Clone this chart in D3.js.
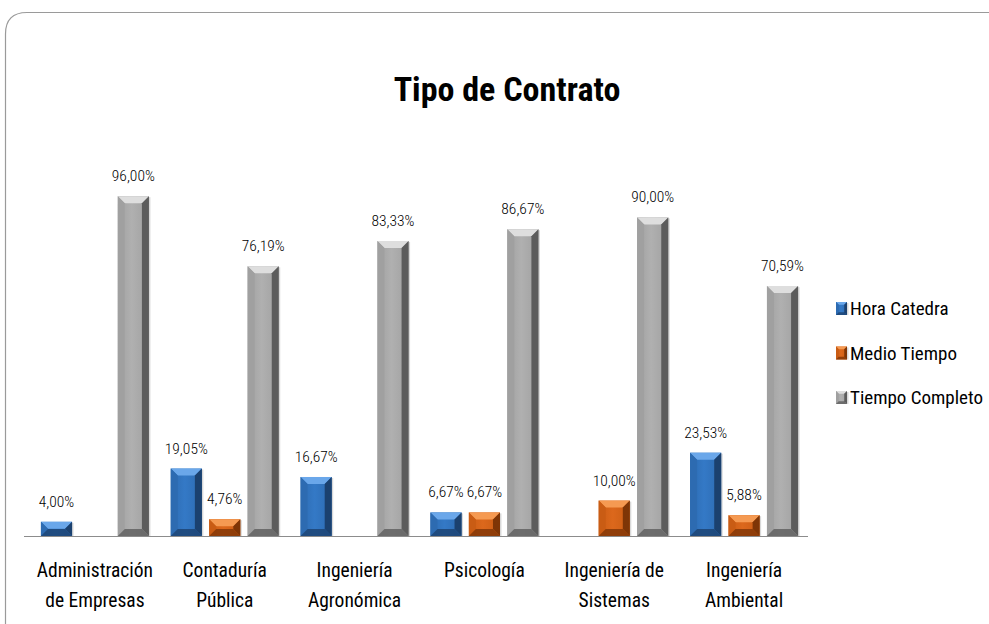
<!doctype html>
<html lang="es">
<head>
<meta charset="utf-8">
<title>Tipo de Contrato</title>
<script src="https://cdn.jsdelivr.net/npm/d3@7"></script>
<style>
  body { margin: 0; background: #fff; }
  svg text { font-family: "Liberation Sans Narrow", "Roboto Condensed", "Roboto", sans-serif; fill: #000; }
</style>
</head>
<body>
<svg id="chart" width="989" height="624"></svg>
<script>

// data
var categories = [
  ["Administración", "de Empresas"],
  ["Contaduría", "Pública"],
  ["Ingeniería", "Agronómica"],
  ["Psicología"],
  ["Ingeniería de", "Sistemas"],
  ["Ingeniería", "Ambiental"]
];
var seriesNames = ["Hora Catedra", "Medio Tiempo", "Tiempo Completo"];
var horaCatedra    = [4.00, 19.05, 16.67, 6.67, null, 23.53];
var medioTiempo    = [null, 4.76, null, 6.67, 10.00, 5.88];
var tiempoCompleto = [96.00, 76.19, 83.33, 86.67, 90.00, 70.59];
var seriesValues = [horaCatedra, medioTiempo, tiempoCompleto];

// looks
var palette = [
  { base: "#3479c6", light: "#6aa7ea", side: "#2d6bb1", dark: "#1b416f" },
  { base: "#dc681c", light: "#f59a52", side: "#c95c14", dark: "#7e3506" },
  { base: "#b0b0b0", light: "#dedede", side: "#a0a0a0", dark: "#5c5c5c" }
];

var svg = d3.select("#chart"),
    baseline = 536,
    left = 24,
    right = 808;

// frame
svg.append("path")
    .attr("d", "M5.5,624 L5.5,34 Q5.5,12.5 27,12.5 L989,12.5")
    .attr("fill", "none")
    .attr("stroke", "#9a9a9a")
    .attr("stroke-width", 1.2);

svg.append("text")
    .attr("x", 507)
    .attr("y", 101)
    .attr("text-anchor", "middle")
    .style("font-size", "34px")
    .style("font-weight", "bold")
    .text("Tipo de Contrato");

var x = d3.scaleBand()
    .domain(d3.range(categories.length))
    .range([30, 809]);

var xs = d3.scaleBand()
    .domain(d3.range(seriesNames.length))
    .range([-54, 54])
    .paddingInner(0.19);

var y = d3.scaleLinear()
    .domain([0, 100])
    .range([baseline, baseline - 354]);

// gradients for the front faces
var defs = svg.append("defs");
palette.forEach(function(p, i) {
  var g = defs.append("linearGradient")
      .attr("id", "face" + i)
      .attr("x1", 0).attr("x2", 1).attr("y1", 0).attr("y2", 0);
  g.append("stop").attr("offset", "0%").attr("stop-color", p.side);
  g.append("stop").attr("offset", "45%").attr("stop-color", p.base);
  g.append("stop").attr("offset", "100%").attr("stop-color", p.side);
});

function bevelBar(sel, bx, by, w, h, i) {
  var p = palette[i];
  var b = Math.min(7, w / 4, h / 2);
  var g = sel.append("g");
  g.append("rect")
      .attr("x", bx + 1.5).attr("y", by + 1)
      .attr("width", w).attr("height", h - 1)
      .attr("fill", "#000").attr("opacity", 0.15);
  g.append("rect")
      .attr("x", bx).attr("y", by).attr("width", w).attr("height", h)
      .attr("fill", "url(#face" + i + ")");
  var pts = function(a) { return a.map(function(d) { return d.join(","); }).join(" "); };
  g.append("polygon")
      .attr("points", pts([[bx, by], [bx + w, by], [bx + w - b, by + b], [bx + b, by + b]]))
      .attr("fill", p.light);
  g.append("polygon")
      .attr("points", pts([[bx, by], [bx + b, by + b], [bx + b, by + h - b], [bx, by + h]]))
      .attr("fill", p.side);
  g.append("polygon")
      .attr("points", pts([[bx + w, by], [bx + w, by + h], [bx + w - b, by + h - b], [bx + w - b, by + b]]))
      .attr("fill", p.dark);
  g.append("polygon")
      .attr("points", pts([[bx, by + h], [bx + w, by + h], [bx + w - b, by + h - b], [bx + b, by + h - b]]))
      .attr("fill", p.dark).attr("opacity", 0.8);
}

var bars = svg.append("g");
var labels = svg.append("g");

seriesValues.forEach(function(vals, s) {
  vals.forEach(function(v, c) {
    if (v == null) return;
    var cx = x(c) + x.bandwidth() / 2;
    var bx = cx + xs(s);
    var top = y(v);
    bevelBar(bars, bx, top, xs.bandwidth(), baseline - top, s);
    labels.append("text")
        .attr("x", bx + xs.bandwidth() / 2)
        .attr("y", top - 15)
        .attr("text-anchor", "middle")
        .style("font-size", "15.5px")
        .style("font-weight", "300")
        .text(d3.format(".2f")(v).replace(".", ",") + "%");
  });
});

// axis line
svg.append("line")
    .attr("x1", left).attr("x2", right)
    .attr("y1", baseline + 0.5).attr("y2", baseline + 0.5)
    .attr("stroke", "#8c8c8c").attr("stroke-width", 1.2);

// category labels
categories.forEach(function(lines, c) {
  var t = svg.append("text")
      .attr("x", x(c) + x.bandwidth() / 2)
      .attr("y", 577)
      .attr("text-anchor", "middle")
      .style("font-size", "19.5px");
  lines.forEach(function(l, k) {
    t.append("tspan")
        .attr("x", x(c) + x.bandwidth() / 2)
        .attr("dy", k === 0 ? 0 : 30)
        .text(l);
  });
});

// legend
var legend = svg.append("g");
seriesNames.forEach(function(name, i) {
  var ly = 315 + i * 44.5;
  bevelBar(legend, 836, ly - 13, 11, 13, i);
  legend.append("text")
      .attr("x", 850)
      .attr("y", ly)
      .style("font-size", "19px")
      .text(name);
});

</script>
</body>
</html>
